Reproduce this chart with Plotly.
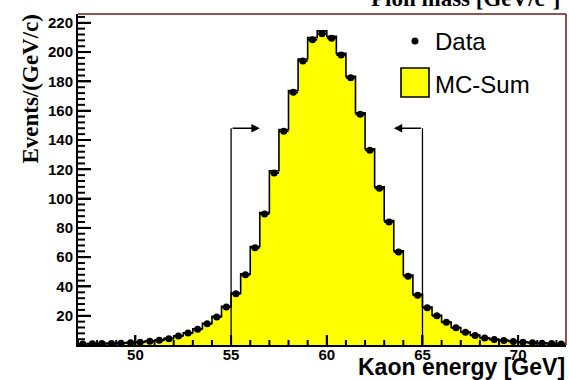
import numpy as np
import plotly.graph_objects as go

# Kaon energy histogram, 0.5 GeV bins from 47 to 72.5 GeV
bin_lo = 47.0
bin_width = 0.5
data_counts = [
    0.8, 0.9, 1.0, 1.1, 1.3, 1.6, 2.0, 2.6, 3.3, 4.4,
    6.2, 8.2, 10.8, 14.5, 19.2, 26.0, 35.0, 48.0, 66.5, 89.5,
    117.5, 146.0, 172.5, 194.0, 208.5, 212.5, 209.5, 198.0, 182.5, 157.5,
    133.0, 107.0, 84.0, 63.5, 47.0, 34.0, 25.5, 20.0, 15.5, 11.8,
    8.7, 6.6, 4.9, 3.8, 3.1, 2.5, 2.0, 1.6, 1.3, 1.0, 0.8,
]
mc_counts = [
    0.9, 1.0, 1.0, 1.2, 1.4, 1.7, 2.1, 2.7, 3.4, 4.6,
    6.4, 8.4, 11.1, 14.8, 19.6, 26.5, 35.5, 48.6, 67.3, 90.4,
    119.0, 147.2, 173.8, 195.3, 210.0, 214.5, 210.8, 199.2, 183.4, 158.5,
    134.0, 108.0, 85.0, 64.4, 47.8, 34.6, 26.0, 20.4, 15.8, 12.0,
    8.9, 6.8, 5.0, 3.9, 3.2, 2.6, 2.1, 1.7, 1.3, 1.0, 0.8,
]
cut_low = 55.0
cut_high = 65.0
cut_arrow_y = 148.0
cut_arrow_len = 1.5

x_tick_step = 5
x_minor_step = 1
y_tick_step = 20
y_minor_step = 4
y_max = 226

n_bins = len(data_counts)
edges = bin_lo + bin_width * np.arange(n_bins + 1)
centers = edges[:-1] + bin_width / 2
x_range = [bin_lo, float(edges[-1])]
y_range = [0.05, y_max]  # a hair above zero so no "0" label is drawn

# figure geometry (pixels)
W, H = 569, 380
ML, MR, MT, MB = 78, 3, 14, 35
PW, PH = W - ML - MR, H - MT - MB


def xp(px):
    return (px - ML) / PW


def yp(py):
    return (H - MB - py) / PH


fig = go.Figure()

# MC sum: step histogram with yellow fill
fig.add_trace(go.Scatter(
    x=edges, y=list(mc_counts) + [mc_counts[-1]],
    mode="lines", line=dict(shape="hv", color="black", width=1.6),
    fill="tozeroy", fillcolor="#ffff00", showlegend=False,
    hoverinfo="skip",
))

# data points with half-bin horizontal errors
fig.add_trace(go.Scatter(
    x=centers, y=data_counts, mode="markers",
    marker=dict(color="black", size=7),
    error_x=dict(type="constant", value=bin_width / 2, color="black",
                 thickness=2, width=0),
    showlegend=False,
))

shapes = []
annotations = []
tick_line = dict(color="black", width=2)

# tick marks along both axes (long at labelled values, short in between)
for v in np.arange(x_minor_step * np.ceil(x_range[0]), x_range[1], x_minor_step):
    length = 10 if v % x_tick_step == 0 else 5
    shapes.append(dict(type="line", xref="x", yref="paper", x0=float(v), x1=float(v),
                       y0=0, y1=length / PH, line=tick_line))
for v in np.arange(y_minor_step, y_max, y_minor_step):
    length = 13 if v % y_tick_step == 0 else 7
    shapes.append(dict(type="line", xref="paper", yref="y", x0=0, x1=length / PW,
                       y0=float(v), y1=float(v), line=tick_line))

# cut lines with arrows pointing into the selected window
for xc, direction in [(cut_low, 1), (cut_high, -1)]:
    shapes.append(dict(type="line", xref="x", yref="y", x0=xc, x1=xc,
                       y0=0, y1=cut_arrow_y, line=dict(color="black", width=1.3)))
    annotations.append(dict(
        x=xc + direction * cut_arrow_len, y=cut_arrow_y, xref="x", yref="y",
        ax=xc, ay=cut_arrow_y, axref="x", ayref="y", text="",
        showarrow=True, arrowhead=2, arrowsize=1.3, arrowwidth=1.3,
        arrowcolor="black",
    ))

# frame: top and right edges
shapes.append(dict(type="line", xref="paper", yref="paper", x0=0, x1=1, y0=1, y1=1,
                   line=dict(color="#6e1c1c", width=1.6)))
shapes.append(dict(type="line", xref="paper", yref="paper", x0=1, x1=1, y0=0, y1=1,
                   line=dict(color="#8a2020", width=1.6)))

# legend
shapes.append(dict(type="circle", xref="paper", yref="paper",
                   x0=xp(411.5), x1=xp(418.5), y0=yp(37.5), y1=yp(44.5),
                   fillcolor="black", line=dict(color="black", width=0)))
shapes.append(dict(type="rect", xref="paper", yref="paper",
                   x0=xp(401), x1=xp(429), y0=yp(97), y1=yp(68),
                   fillcolor="#ffff00", line=dict(color="black", width=1.6)))
legend_font = dict(family="Liberation Sans, Arial, sans-serif", size=24, color="black")
annotations.append(dict(text="Data", xref="paper", yref="paper", x=xp(433), y=yp(42),
                        xanchor="left", yanchor="middle", showarrow=False, font=legend_font))
annotations.append(dict(text="MC-Sum", xref="paper", yref="paper", x=xp(433), y=yp(84),
                        xanchor="left", yanchor="middle", showarrow=False, font=legend_font))

# axis titles
annotations.append(dict(
    text="Events/(GeV/c)", xref="paper", yref="paper", x=xp(30), y=yp(13),
    xanchor="center", yanchor="top", textangle=-90, showarrow=False,
    font=dict(family="Liberation Serif, Times New Roman, serif", size=23,
              color="black", weight="bold"),
))
annotations.append(dict(
    text="Kaon energy [GeV]", xref="paper", yref="paper", x=xp(567), y=yp(367),
    xanchor="right", yanchor="middle", showarrow=False,
    font=dict(family="Liberation Sans, Arial, sans-serif", size=23,
              color="black", weight="bold"),
))
# title of the pad above (clipped by the top edge)
annotations.append(dict(
    text="Pion mass [GeV/c<sup>2</sup>]", xref="paper", yref="paper",
    x=xp(562), y=yp(13), xanchor="right", yanchor="bottom", showarrow=False,
    font=dict(family="Liberation Serif, Times New Roman, serif", size=23,
              color="black", weight="bold"),
))

tick_font = dict(family="Liberation Sans, Arial, sans-serif", size=15,
                 color="black", weight="bold")

fig.update_layout(
    width=W, height=H,
    margin=dict(l=ML, r=MR, t=MT, b=MB, pad=0),
    paper_bgcolor="white", plot_bgcolor="white",
    shapes=shapes, annotations=annotations,
    showlegend=False,
    xaxis=dict(
        range=x_range, tickmode="linear", tick0=0, dtick=x_tick_step,
        ticks="inside", ticklen=10, tickwidth=2, tickcolor="black",
        showgrid=False, zeroline=False, showline=True, linecolor="black",
        linewidth=2, tickfont=tick_font, ticklabelstandoff=-5,
    ),
    yaxis=dict(
        range=y_range, tickmode="linear", tick0=0, dtick=y_tick_step,
        ticks="inside", ticklen=13, tickwidth=2, tickcolor="black",
        showgrid=False, zeroline=False, showline=True, linecolor="black",
        linewidth=2, tickfont=tick_font, ticklabelstandoff=0,
    ),
)

fig.write_html("out.html")
